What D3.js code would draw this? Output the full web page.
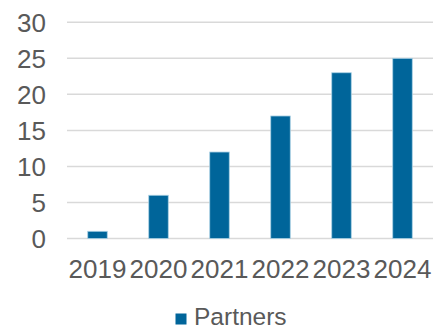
<!DOCTYPE html>
<html>
<head>
<meta charset="utf-8">
<script src="https://cdn.jsdelivr.net/npm/d3@7"></script>
<style>
  body { margin: 0; background: #fff; }
  text { font-family: "Liberation Sans", Arial, sans-serif; fill: #595959; }
</style>
</head>
<body>
<svg width="433" height="328"></svg>
<script>
var years = ["2019", "2020", "2021", "2022", "2023", "2024"]
var partners = [1, 6, 12, 17, 23, 25]
var yTicks = [0, 5, 10, 15, 20, 25, 30]
var seriesName = "Partners"

var svg = d3.select("svg")
var plotLeft = 67, plotRight = 433, plotTop = 22.3, plotBottom = 238.5

var xScale = d3.scaleBand().domain(years).range([plotLeft, plotRight]).paddingInner(0.68).paddingOuter(0.34)
var yScale = d3.scaleLinear().domain([0, 30]).range([plotBottom, plotTop])

// gridlines
svg.append("g")
    .selectAll("line")
    .data(yTicks)
    .enter()
    .append("line")
    .attr("x1", plotLeft)
    .attr("x2", plotRight)
    .attr("y1", d => yScale(d))
    .attr("y2", d => yScale(d))
    .attr("stroke", "#d9d9d9")
    .attr("stroke-width", 1.5)

// y labels
svg.append("g")
    .selectAll("text")
    .data(yTicks)
    .enter()
    .append("text")
    .attr("x", 46)
    .attr("y", d => yScale(d))
    .attr("dy", "0.36em")
    .attr("text-anchor", "end")
    .style("font-size", "26px")
    .text(d => d)

// bars
svg.append("g")
    .selectAll("rect")
    .data(partners)
    .enter()
    .append("rect")
    .attr("x", (d, i) => xScale(years[i]))
    .attr("width", xScale.bandwidth())
    .attr("y", d => yScale(d))
    .attr("height", d => plotBottom - yScale(d))
    .attr("fill", "#00659a")
    .attr("stroke", "#a9d0e4")
    .attr("stroke-width", 0.8)

// x labels
var xCenter = d3.scaleBand().domain(years).range([plotLeft, plotRight])
svg.append("g")
    .selectAll("text")
    .data(years)
    .enter()
    .append("text")
    .attr("x", d => xCenter(d) + xCenter.bandwidth() / 2)
    .attr("y", 277.5)
    .attr("text-anchor", "middle")
    .style("font-size", "26px")
    .text(d => d)

// legend
var legend = svg.append("g")
legend.append("rect")
    .attr("x", 175.5)
    .attr("y", 313.5)
    .attr("width", 11)
    .attr("height", 11)
    .attr("fill", "#00659a")
legend.append("text")
    .attr("x", 194)
    .attr("y", 325)
    .style("font-size", "24.5px")
    .text(seriesName)
</script>
</body>
</html>
